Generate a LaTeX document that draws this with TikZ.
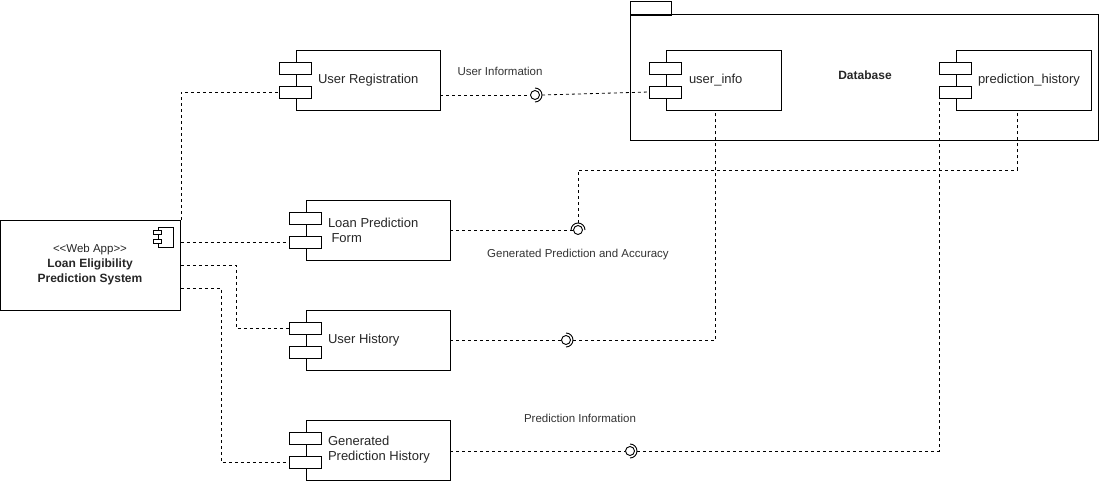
\documentclass[tikz,border=0pt]{standalone}
\usepackage{fontspec}
\setmainfont{Liberation Sans}
\usetikzlibrary{positioning}
\begin{document}
\begin{tikzpicture}[
        x=1pt, y=-1pt,
        line width=0.9pt,
        comp/.style={draw, rectangle, minimum height=60pt, inner sep=0pt},
        port/.style={draw, rectangle, fill=white, minimum width=32pt, minimum height=12pt, inner sep=0pt},
        ctext/.style={align=left, font=\fontsize{13}{15}\selectfont, text=black!85, inner sep=0pt},
        lbl/.style={font=\fontsize{11.5}{14}\selectfont, text=black!80, inner sep=0pt},
        ball/.style={draw, circle, fill=white, minimum size=9pt, inner sep=0pt},
        socket/.style={draw},
        conn/.style={draw, dash pattern=on 3pt off 3pt, line width=0.8pt},
    ]
    \useasboundingbox (0,0) rectangle (1101,481);
    % web app
    \node[draw, minimum width=180pt, minimum height=90pt, inner sep=0pt](app) at (90.5,265){};
    \node[align=center, inner sep=0pt, text=black!85, font=\fontsize{12}{15}\selectfont] (apptext) at (90,265)
        {{\fontsize{11.5}{15}\selectfont \textless\kern0pt\textless Web App\textgreater\kern0pt\textgreater}\\
         \textbf{Loan Eligibility}\\
         \textbf{Prediction System}};
    \node[draw, minimum width=15pt, minimum height=20pt, inner sep=0pt, line width=0.8pt](appicon) at (165.5,237){};
    \node[draw, fill=white, minimum width=8pt, minimum height=4pt, inner sep=0pt, line width=0.8pt] at ([yshift=4.5pt]appicon.west){};
    \node[draw, fill=white, minimum width=8pt, minimum height=4pt, inner sep=0pt, line width=0.8pt] at ([yshift=-4.5pt]appicon.west){};
    % database package
    \node[draw, minimum width=41pt, minimum height=14pt, inner sep=0pt, anchor=north west](tab) at (630,1){};
    \node[draw, minimum width=468pt, minimum height=126pt, inner sep=0pt, anchor=north west](db) at (630,14){};
    \node[font=\fontsize{12}{14}\selectfont\bfseries, text=black!85, inner sep=0pt](dbname) at (865,75){Database};
    % components
    \node[comp, minimum width=144pt](ur) at (368,80){};
    \node[port](ur1) at ([yshift=12pt]ur.west){};
    \node[port](ur2) at ([yshift=-12pt]ur.west){};
    \node[ctext, right=22pt of ur.west](urtext){User Registration};
    \node[comp, minimum width=144pt](lpf) at (378,230){};
    \node[port](lpf1) at ([yshift=12pt]lpf.west){};
    \node[port](lpf2) at ([yshift=-12pt]lpf.west){};
    \node[ctext, right=22pt of lpf.west](lpftext){Loan Prediction\\\hspace{3.5pt}Form};
    \node[comp, minimum width=144pt](uh) at (378,340){};
    \node[port](uh1) at ([yshift=12pt]uh.west){};
    \node[port](uh2) at ([yshift=-12pt]uh.west){};
    \node[ctext, right=22pt of uh.west](uhtext){User History};
    \node[comp, minimum width=144pt](gph) at (378,450){};
    \node[port](gph1) at ([yshift=12pt]gph.west){};
    \node[port](gph2) at ([yshift=-12pt]gph.west){};
    \node[ctext, right=22pt of gph.west](gphtext){Generated\\Prediction History};
    \node[comp, minimum width=115pt](ui) at (723.5,80){};
    \node[port](ui1) at ([yshift=12pt]ui.west){};
    \node[port](ui2) at ([yshift=-12pt]ui.west){};
    \node[ctext, right=23pt of ui.west](uitext){user\_info};
    \node[comp, minimum width=135pt](ph) at (1023.5,80){};
    \node[port](ph1) at ([yshift=12pt]ph.west){};
    \node[port](ph2) at ([yshift=-12pt]ph.west){};
    \node[ctext, right=22pt of ph.west](phtext){prediction\_history};
    % web app links
    \draw[conn] (app.north east) |- (ur2.west);
    \draw[conn] (lpf2.west -| app.east) -- (lpf2.west);
    \draw[conn] (app.east) -- ++(55,0) |- (uh1.west);
    \draw[conn] ([yshift=-23pt]app.east) -- ++(40,0) |- (gph2.west);
    % interfaces
    \node[ball](b1) at (535,95){};
    \node[ball](b2) at (578,230){};
    \node[ball](b3) at (566,340){};
    \node[ball](b4) at (630,451){};
    \draw[conn] (b1.west -| ur.east) -- (b1.west);
    \draw[conn] ([xshift=7pt]b1.center) -- (ui2.west);
    \draw[socket] ([yshift=-7pt]b1.center) arc[start angle=-90, end angle=90, radius=7pt];
    \draw[conn] (b2.west -| lpf.east) -- (b2.west);
    \draw[conn] ([yshift=7pt]b2.center) -- ++(0,-53) -| ([xshift=-6pt]ph.south);
    \draw[socket] ([xshift=-7pt]b2.center) arc[start angle=180, end angle=0, radius=7pt];
    \draw[conn] (b3.west -| uh.east) -- (b3.west);
    \draw[conn] ([xshift=7pt]b3.center) -| ([xshift=-8pt]ui.south);
    \draw[socket] ([yshift=-7pt]b3.center) arc[start angle=-90, end angle=90, radius=7pt];
    \draw[conn] (b4.west -| gph.east) -- (b4.west);
    \draw[conn] ([xshift=7pt]b4.center) -| (ph2.south west);
    \draw[socket] ([yshift=-7pt]b4.center) arc[start angle=-90, end angle=90, radius=7pt];
    % labels
    \node[lbl](l1) at (500,71){User Information};
    \node[lbl](l2) at (578,255){Generated Prediction and Accuracy};
    \node[lbl](l3) at (580,418){Prediction Information};
\end{tikzpicture}
\end{document}
